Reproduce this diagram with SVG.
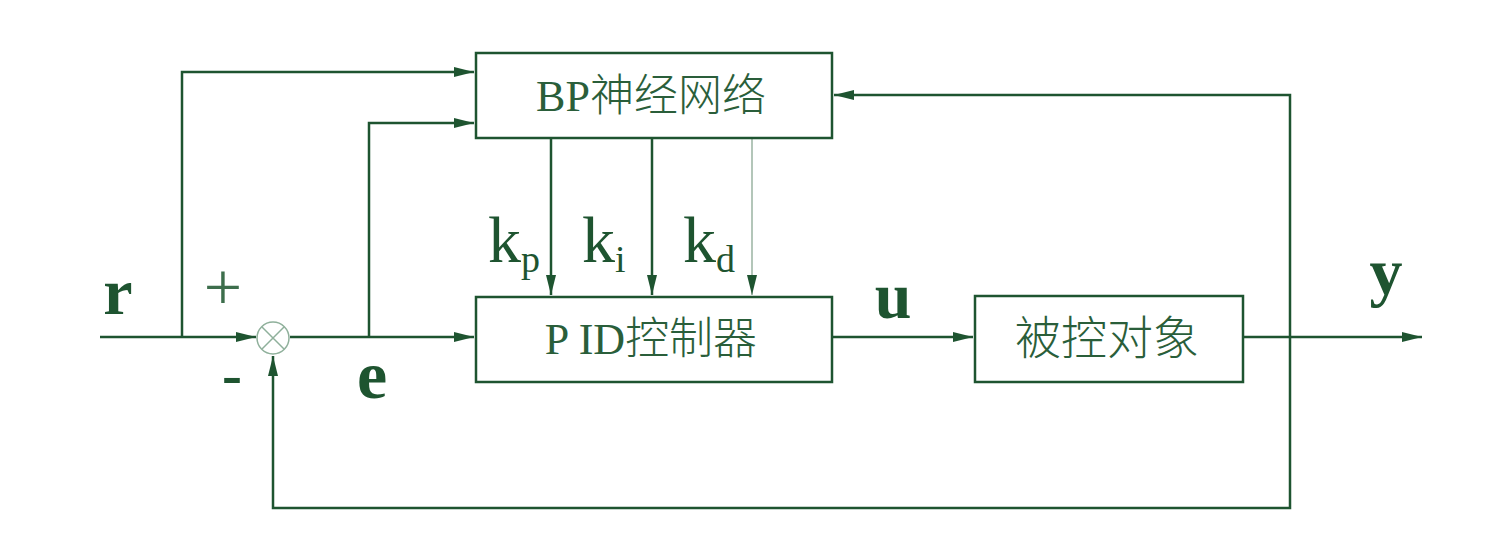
<svg xmlns="http://www.w3.org/2000/svg" width="1492" height="546" viewBox="0 0 1492 546">
<style>
.ln{fill:none;stroke:#1e5430;stroke-width:2.5}
.box{fill:#fff;stroke:#1e5430;stroke-width:2.5}
.bt{font-family:"Liberation Serif","Noto Sans CJK SC",serif;font-size:44px;fill:#2a5e3a;text-anchor:middle;font-weight:300}
.sym{font-family:"Liberation Serif",serif;fill:#1e5430}
</style>
<defs>
<marker id="ah" viewBox="0 0 20 10" refX="20" refY="5" markerWidth="20" markerHeight="10" markerUnits="userSpaceOnUse" orient="auto">
<path d="M0,0 L20,5 L0,10 Z" fill="#1e5430"/>
</marker>
</defs>
<rect width="1492" height="546" fill="#fff"/>
<g id="connectors">
<path class="ln" d="M100,337 H256" marker-end="url(#ah)"/>
<path class="ln" d="M182,337 V72 H474" marker-end="url(#ah)"/>
<path class="ln" d="M290,337 H474" marker-end="url(#ah)"/>
<path class="ln" d="M369,337 V123 H474" marker-end="url(#ah)"/>
<path class="ln" d="M551,139 V295" marker-end="url(#ah)"/>
<path class="ln" d="M652,139 V295" marker-end="url(#ah)"/>
<path class="ln" d="M752,139 V295" style="stroke:#9ab3a2;stroke-width:1.5" marker-end="url(#ah)"/>
<path class="ln" d="M832,337 H973" marker-end="url(#ah)"/>
<path class="ln" d="M1243,337 H1422" marker-end="url(#ah)"/>
<path class="ln" d="M1290,337 V95 H834" marker-end="url(#ah)"/>
<path class="ln" d="M1290,337 V508 H273 V356" marker-end="url(#ah)"/>
</g>
<g id="sum">
<circle cx="273" cy="338" r="16" fill="#fff" stroke="#8fb09b" stroke-width="1.5"/>
<path d="M262,327 L284,349 M284,327 L262,349" stroke="#8fb09b" stroke-width="1.5"/>
</g>
<g id="bp">
<rect class="box" x="476" y="53" width="356" height="85"/>
<text class="bt" x="651" y="111">BP神经网络</text>
</g>
<g id="pid">
<rect class="box" x="476" y="297" width="356" height="85"/>
<text class="bt" x="651" y="354">P ID控制器</text>
</g>
<g id="plant">
<rect class="box" x="975" y="296" width="268" height="86"/>
<text class="bt" x="1107" y="354" style="font-size:46px">被控对象</text>
</g>
<g id="labels">
<text class="sym" x="223" y="310" font-size="68" text-anchor="middle" style="fill:#3d6e4c">+</text>
<text class="sym" x="118" y="314" font-size="66" font-weight="bold" text-anchor="middle">r</text>
<text class="sym" x="232" y="394" font-size="60" font-weight="bold" text-anchor="middle">-</text>
<text class="sym" x="372" y="398" font-size="68" text-anchor="middle" font-weight="bold">e</text>
<text class="sym" x="488" y="262" font-size="66">k<tspan font-size="38" dy="10">p</tspan></text>
<text class="sym" x="582" y="262" font-size="66">k<tspan font-size="38" dy="10">i</tspan></text>
<text class="sym" x="683" y="262" font-size="66">k<tspan font-size="38" dy="10">d</tspan></text>
<text class="sym" x="893" y="318" font-size="66" font-weight="bold" text-anchor="middle">u</text>
<text class="sym" x="1386" y="294" font-size="66" font-weight="bold" text-anchor="middle">y</text>
</g>
</svg>
